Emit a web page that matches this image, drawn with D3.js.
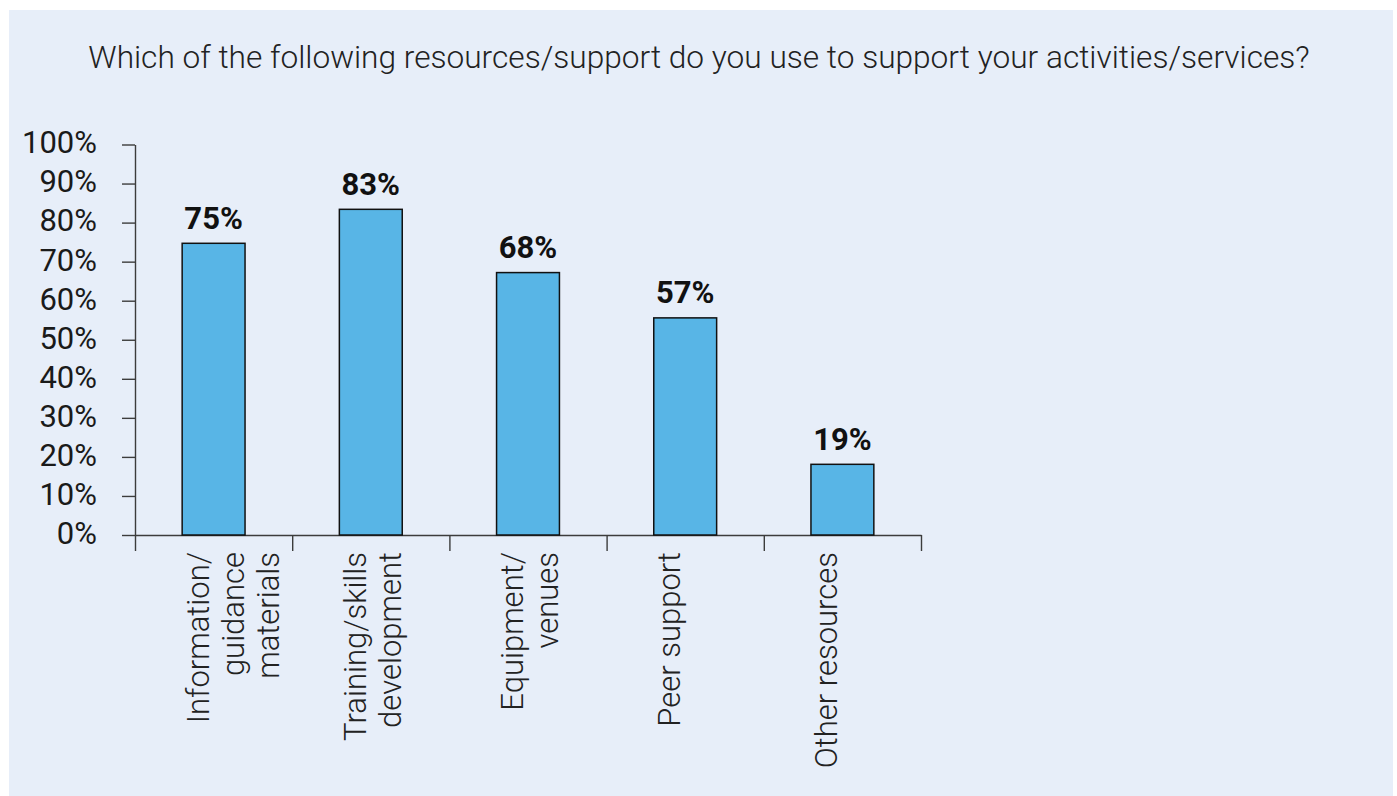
<!DOCTYPE html>
<html><head><meta charset="utf-8">
<script src="https://cdn.jsdelivr.net/npm/d3@7"></script>
<style>body{margin:0;background:#fff}svg{display:block}</style>
</head><body>
<svg id="chart" width="1397" height="796"></svg>
<script>
const titleText = "Which of the following resources/support do you use to support your activities/services?";
const categories = ["Information/ guidance materials", "Training/skills development", "Equipment/ venues", "Peer support", "Other resources"];
const categoryLines = [["Information/", "guidance", "materials"], ["Training/skills", "development"], ["Equipment/", "venues"], ["Peer support"], ["Other resources"]];
const values = [74.7, 83.4, 67.2, 55.6, 18.1];
const valueLabels = ["75%", "83%", "68%", "57%", "19%"];
const yTicks = [0, 10, 20, 30, 40, 50, 60, 70, 80, 90, 100];

const svg = d3.select("#chart");
const FONT = "Roboto, 'Noto Sans', sans-serif";

svg.append("rect").attr("x", 9).attr("y", 10).attr("width", 1384).attr("height", 786).attr("fill", "#E7EEF9");

const title = svg.append("text").attr("x", 699).attr("y", 68).attr("text-anchor", "middle")
  .attr("font-family", FONT).attr("font-weight", 300).attr("font-size", 31).attr("fill", "#222")
  .text(titleText);
const tw = title.node().getComputedTextLength();
if (tw > 0) title.attr("font-size", Math.min(34, 31 * 1222 / tw));

const y = d3.scaleLinear().domain([0, 100]).range([535, 144.5]);
const x = d3.scaleBand().domain(categories).range([135, 921]).paddingInner(0.6).paddingOuter(0.3);
const xb = d3.scaleLinear().domain([0, categories.length]).range([135, 921]);

const yAxis = svg.append("g").attr("transform", "translate(135,0)")
  .call(d3.axisLeft(y).tickValues(yTicks).tickFormat(d => d + "%").tickSize(13).tickSizeOuter(0).tickPadding(25));
yAxis.selectAll("text").attr("font-family", FONT).attr("font-size", 31).attr("fill", "#1a1a1a").attr("dy", "0.27em");

const xAxis = svg.append("g").attr("transform", "translate(0,535)")
  .call(d3.axisBottom(xb).tickValues(d3.range(categories.length + 1)).tickFormat("").tickSize(16).tickSizeOuter(0));

[yAxis, xAxis].forEach(g => {
  g.select(".domain").attr("stroke", "#3c3c3c").attr("stroke-width", 1.4);
  g.selectAll(".tick line").attr("stroke", "#3c3c3c").attr("stroke-width", 1.4);
});

svg.append("g").selectAll("rect").data(values).join("rect")
  .attr("x", (d, i) => x(categories[i]))
  .attr("y", d => y(d))
  .attr("width", x.bandwidth())
  .attr("height", d => y(0) - y(d))
  .attr("fill", "#58B5E6").attr("stroke", "#111").attr("stroke-width", 1.5);

svg.append("g").selectAll("text").data(values).join("text")
  .attr("x", (d, i) => x(categories[i]) + x.bandwidth() / 2)
  .attr("y", d => y(d) - 14.5)
  .attr("text-anchor", "middle")
  .attr("font-family", FONT).attr("font-weight", 700).attr("font-size", 31).attr("fill", "#111")
  .text((d, i) => valueLabels[i]);

const lbl = svg.append("g").selectAll("text").data(categories).join("text")
  .attr("transform", d => `translate(${x(d) + x.bandwidth() / 2},552) rotate(-90)`)
  .attr("text-anchor", "end")
  .attr("font-family", FONT).attr("font-weight", 300).attr("font-size", 31).attr("fill", "#222");
lbl.each(function(d, i) {
  const t = d3.select(this);
  categoryLines[i].forEach((line, j) => {
    t.append("tspan").attr("x", 0).attr("y", -5 + j * 35).text(line);
  });
});
</script>
</body></html>
